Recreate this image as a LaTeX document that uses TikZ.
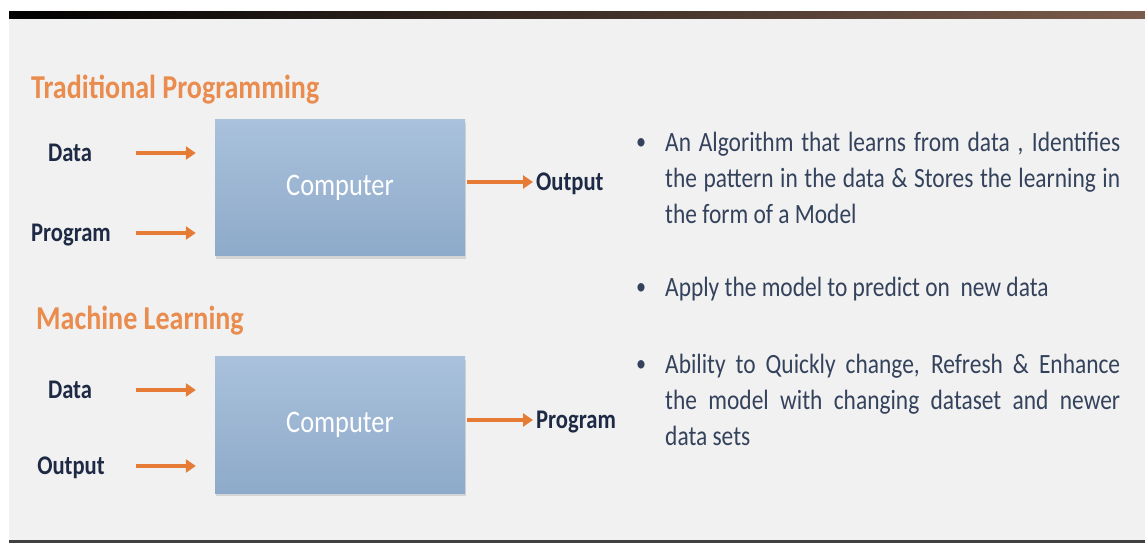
\documentclass[tikz,border=0pt]{standalone}
\usepackage{fontspec}
\setmainfont{Carlito}[FakeStretch=0.84]
\usepackage{xcolor}
\usepackage{tikz}
\usetikzlibrary{positioning, arrows.meta, calc, shadows}
\definecolor{slidegray}{HTML}{F1F1F1}
\definecolor{headorange}{HTML}{E98C4E}
\definecolor{floworange}{HTML}{E57B34}
\definecolor{labelnavy}{HTML}{1E2A45}
\definecolor{bulletnavy}{HTML}{34425C}
\definecolor{boxtop}{HTML}{A9C1DB}
\definecolor{boxbottom}{HTML}{8EAACA}
\definecolor{barmid}{HTML}{2A3450}
\definecolor{barend}{HTML}{7B5C4C}

\begin{document}
\begin{tikzpicture}[x=1bp, y=-1bp,
    heading/.style={anchor=base west, inner sep=0pt, text=headorange,
      font=\bfseries\fontsize{33.5}{38}\selectfont},
    iolabel/.style={inner sep=0pt, text height=17.4bp, text depth=0bp, text=labelnavy,
      font=\bfseries\fontsize{27}{30}\selectfont},
    computer/.style={minimum width=250bp, minimum height=136bp, inner sep=0pt,
      top color=boxtop, bottom color=boxbottom, text=white,
      drop shadow={opacity=0.25, shadow xshift=1bp, shadow yshift=-3bp},
      font=\fontsize{31.5}{34}\selectfont},
    flow/.style={draw=floworange, line width=4.5bp, -{Triangle[length=10bp, width=13bp]}},
    dot/.style={inner sep=0pt, text=bulletnavy, font=\fontsize{24}{28}\selectfont},
    points/.style={anchor=north west, inner sep=0pt, text width=455bp, align=justify,
      text=bulletnavy, font=\fontsize{28}{36}\selectfont}]
  \useasboundingbox (0,0) rectangle (1145,543);
  % slide background
  \fill[slidegray] (9,19) rectangle (1145,540);
  \shade[left color=black, middle color=barmid, right color=barend] (9,12) rectangle (1145,19);
  \fill[black!75] (9,540) rectangle (1145,543);

  % traditional programming
  \node[heading] (tphead) at (31,99) {Traditional Programming};
  \node[computer] (tpbox) at (340,188) {Computer};
  \node[iolabel] (tpdata) at (70,153) {Data};
  \node[iolabel] (tpprog) at (71,233) {Program};
  \node[iolabel, anchor=west] (tpout) at (536,182) {Output};
  \coordinate (tpdatatail) at (136,153);
  \coordinate (tpprogtail) at (136,233);
  \draw[flow, shorten >=19bp] (tpdatatail) -- (tpdatatail -| tpbox.west);
  \draw[flow, shorten >=19bp] (tpprogtail) -- (tpprogtail -| tpbox.west);
  \draw[flow, shorten <=2bp, shorten >=3bp] (tpbox.east |- tpout.west) -- (tpout.west);

  % machine learning
  \node[heading] (mlhead) at (36,330) {Machine Learning};
  \node[computer] (mlbox) at (340,425) {Computer};
  \node[iolabel] (mldata) at (70,390) {Data};
  \node[iolabel] (mlout) at (71,466) {Output};
  \node[iolabel, anchor=west] (mlprog) at (536,420) {Program};
  \coordinate (mldatatail) at (136,390);
  \coordinate (mlouttail) at (136,466);
  \draw[flow, shorten >=19bp] (mldatatail) -- (mldatatail -| mlbox.west);
  \draw[flow, shorten >=19bp] (mlouttail) -- (mlouttail -| mlbox.west);
  \draw[flow, shorten <=2bp, shorten >=3bp] (mlbox.east |- mlprog.west) -- (mlprog.west);

  % points on the right
  \node[dot] (dotone) at (641,144) {\textbullet};
  \node[points] (pointone) at (665,126.3) {\strut An Algorithm that learns from data , Identifies\linebreak
    the pattern in the data \& Stores the learning in\linebreak the form of a Model};
  \node[dot] (dottwo) at (641,289) {\textbullet};
  \node[points] (pointtwo) at (665,271.3) {\strut Apply the model to predict on\ \ new data};
  \node[dot] (dotthree) at (641,366) {\textbullet};
  \node[points] (pointthree) at (665,348.3) {\strut Ability to Quickly change, Refresh \& Enhance\linebreak
    the model with changing dataset and newer\linebreak data sets};
\end{tikzpicture}
\end{document}
